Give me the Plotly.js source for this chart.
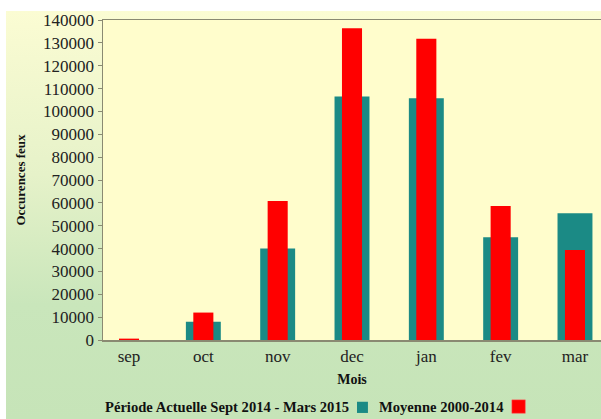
<!DOCTYPE html>
<html>
<head>
<meta charset="utf-8">
<script src="https://cdn.plot.ly/plotly-3.0.1.min.js"></script>
<style>
  html, body { margin: 0; padding: 0; background: #ffffff; }
  #wrap {
    position: absolute; left: 6px; top: 11px; width: 595px; height: 408px;
    background: linear-gradient(to bottom, #fbfcd3 0%, #e6f2c9 40%, #c9e6bb 72%, #c6e4b8 100%);
  }
  #chart { width: 595px; height: 408px; }
</style>
</head>
<body>
<div id="wrap"><div id="chart"></div></div>
<script>
const months = ['sep', 'oct', 'nov', 'dec', 'jan', 'fev', 'mar'];
const moyenne = [0, 8000, 40000, 106500, 105800, 45000, 55400];
const actuelle = [600, 12000, 60800, 136400, 131800, 58600, 39400];
const labelActuelle = 'Période Actuelle Sept 2014 - Mars 2015';
const labelMoyenne = 'Moyenne 2000-2014';

const teal = '#1b8a85';
const red = '#ff0000';
const serif = 'Liberation Serif, Times New Roman, serif';

const traces = [
  { type: 'bar', x: months, y: moyenne, name: labelActuelle, width: 0.47,
    marker: { color: teal }, hoverinfo: 'x+y' },
  { type: 'bar', x: months, y: actuelle, name: labelMoyenne, width: 0.27,
    marker: { color: red }, hoverinfo: 'x+y' }
];

const axisColor = '#8a8a72';
const layout = {
  width: 595, height: 408,
  margin: { l: 97, r: 0, t: 9, b: 79, pad: 0 },
  paper_bgcolor: 'rgba(0,0,0,0)',
  plot_bgcolor: '#fffdcc',
  barmode: 'overlay',
  showlegend: false,
  font: { family: serif, color: '#222222' },
  xaxis: {
    type: 'category', range: [-0.35, 6.35],
    showline: true, linecolor: axisColor, linewidth: 1.5, mirror: true,
    showgrid: false, ticks: '', zeroline: false,
    tickfont: { family: serif, size: 17, color: '#222222' },
    title: { text: '<b>Mois</b>', font: { family: serif, size: 14, color: '#111111' }, standoff: 9 }
  },
  yaxis: {
    range: [0, 140000], dtick: 10000, tickformat: 'd',
    ticklabeloverflow: 'allow',
    showline: true, linecolor: axisColor, linewidth: 1.5,
    showgrid: false, zeroline: false,
    ticks: 'outside', ticklen: 4, tickcolor: axisColor,
    tickfont: { family: serif, size: 17, color: '#222222' },
    title: { text: '<b>Occurences feux</b>', font: { family: serif, size: 13, color: '#111111' }, standoff: 14 }
  },
  annotations: [
    { xref: 'paper', yref: 'paper', x: 0, y: -0.209, xanchor: 'left', yanchor: 'middle',
      text: '<b>' + labelActuelle + '</b>', showarrow: false,
      font: { family: serif, size: 14.6, color: '#111111' } },
    { xref: 'paper', yref: 'paper', x: 0.55, y: -0.209, xanchor: 'left', yanchor: 'middle',
      text: '<b>' + labelMoyenne + '</b>', showarrow: false,
      font: { family: serif, size: 14.6, color: '#111111' } }
  ],
  shapes: [
    { type: 'rect', xref: 'paper', yref: 'paper', x0: 0.510, x1: 0.532, y0: -0.228, y1: -0.193,
      fillcolor: teal, line: { width: 0 } },
    { type: 'rect', xref: 'paper', yref: 'paper', x0: 0.821, x1: 0.848, y0: -0.229, y1: -0.187,
      fillcolor: red, line: { width: 0.5, color: '#ff6060' } }
  ]
};

Plotly.newPlot('chart', traces, layout, { displayModeBar: false, staticPlot: true });
</script>
</body>
</html>
